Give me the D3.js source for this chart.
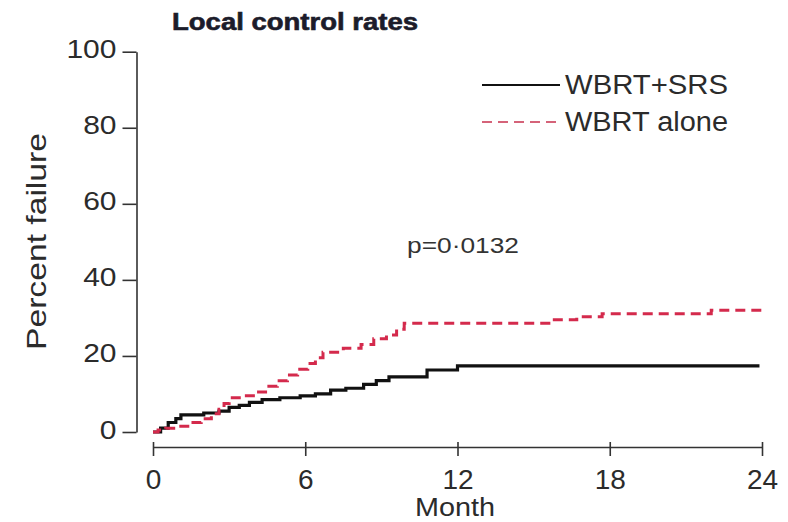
<!DOCTYPE html>
<html>
<head>
<meta charset="utf-8">
<script src="https://cdn.jsdelivr.net/npm/d3@7"></script>
<style>
  html, body { margin: 0; padding: 0; background: #fff; }
  svg { display: block; font-family: "Liberation Sans", Arial, sans-serif; }
  .axis path, .axis line { stroke: #333; stroke-width: 1.6; }
  .axis text { fill: #2b2b2b; }
</style>
</head>
<body>
<svg id="chart"></svg>
<script>
// Kaplan-Meier style step curves (month, percent failure)
const srsMonths = [0, 0.3, 0.6, 0.9, 1.1, 2.0, 2.6, 3.0, 3.4, 3.8, 4.3, 5.0, 5.8, 6.4, 7.0, 7.6, 8.3, 8.8, 9.3, 10.8, 12.0, 23.9];
const srsPct    = [0, 1.0, 2.5, 3.5, 4.5, 5.0, 5.5, 6.5, 7.0, 7.8, 8.5, 9.0, 9.5, 10.0, 11.0, 11.5, 12.5, 13.5, 14.5, 16.3, 17.4, 17.4];

const aloneMonths = [0, 0.2, 0.5, 1.0, 1.5, 1.9, 2.3, 2.6, 2.8, 3.0, 3.6, 4.1, 4.5, 4.9, 5.3, 5.7, 6.1, 6.4, 6.7, 7.5, 8.2, 8.7, 9.2, 9.6, 9.9, 15.6, 16.7, 17.7, 22.0, 24.0];
const alonePct    = [0, 0.5, 1.0, 1.5, 2.5, 3.5, 4.8, 6.0, 7.5, 9.0, 9.5, 10.5, 12.0, 13.5, 15.0, 16.5, 18.0, 19.5, 21.0, 22.0, 23.0, 24.5, 25.5, 27.0, 28.6, 29.5, 30.3, 31.1, 32.0, 32.0];

const xTicks = [0, 6, 12, 18, 24];
const yTicks = [0, 20, 40, 60, 80, 100];

const seriesNames = ['WBRT+SRS', 'WBRT alone'];
const titleText = 'Local control rates';
const pText = 'p=0\u00b70132';

const W = 788, H = 522;
const svg = d3.select('#chart').attr('width', W).attr('height', H);

// scales - x axis sits a bit below the y axis end, like the original
const x = d3.scaleLinear().domain([0, 24]).range([153, 762]);
const y = d3.scaleLinear().domain([0, 100]).range([432, 51.7]);
const xAxisY = 447;

// helper: widen text to match the reference lettering
function stretch(sel, k) {
  sel.each(function() {
    const w = this.getComputedTextLength();
    d3.select(this).attr('textLength', w * k).attr('lengthAdjust', 'spacingAndGlyphs');
  });
}

// y axis
const yAxisG = svg.append('g')
    .attr('class', 'axis')
    .attr('transform', `translate(136.5,0)`)
    .call(d3.axisLeft(y).tickValues(yTicks).tickSize(14).tickSizeOuter(0).tickPadding(6));
yAxisG.selectAll('text')
    .style('font-size', '25px')
    .attr('dy', null)
    .attr('y', 6);
stretch(yAxisG.selectAll('text'), 1.2);

// x axis with ticks crossing the line
const xAxisG = svg.append('g')
    .attr('class', 'axis')
    .attr('transform', `translate(0,${xAxisY})`)
    .call(d3.axisBottom(x).tickValues(xTicks).tickSize(9).tickSizeOuter(0));
xAxisG.selectAll('.tick line').attr('y1', -5);
xAxisG.selectAll('text')
    .style('font-size', '28px')
    .attr('dy', null)
    .attr('y', 42);

// curves
const line = d3.line()
    .x(d => x(d[0]))
    .y(d => y(d[1]))
    .curve(d3.curveStepAfter);

const srsData = srsMonths.map((m, i) => [m, srsPct[i]]);
const aloneData = aloneMonths.map((m, i) => [m, alonePct[i]]);

svg.append('path')
    .datum(srsData)
    .attr('d', line)
    .attr('fill', 'none')
    .attr('stroke', '#111')
    .attr('stroke-width', 3.2);

svg.append('path')
    .datum(aloneData)
    .attr('d', line)
    .attr('fill', 'none')
    .attr('stroke', '#d42a4c')
    .attr('stroke-width', 3)
    .attr('stroke-dasharray', '10,6');

// axis titles
svg.append('text')
    .attr('transform', 'translate(46,241.5) rotate(-90)')
    .attr('text-anchor', 'middle')
    .style('font-size', '28px')
    .attr('fill', '#2b2b2b')
    .attr('textLength', 217)
    .attr('lengthAdjust', 'spacingAndGlyphs')
    .text('Percent failure');

svg.append('text')
    .attr('x', 455)
    .attr('y', 516)
    .attr('text-anchor', 'middle')
    .style('font-size', '25px')
    .attr('fill', '#2b2b2b')
    .attr('textLength', 80)
    .attr('lengthAdjust', 'spacingAndGlyphs')
    .text('Month');

// title
svg.append('text')
    .attr('x', 172)
    .attr('y', 30)
    .style('font-size', '23px')
    .style('font-weight', 'bold')
    .style('stroke', '#1c1c2a')
    .style('stroke-width', 0.6)
    .attr('fill', '#1c1c2a')
    .attr('textLength', 246)
    .attr('lengthAdjust', 'spacingAndGlyphs')
    .text(titleText);

// p value
svg.append('text')
    .attr('x', 407)
    .attr('y', 253)
    .style('font-size', '22px')
    .attr('fill', '#333')
    .attr('textLength', 112)
    .attr('lengthAdjust', 'spacingAndGlyphs')
    .text(pText);

// legend
const legend = svg.append('g');
const legendRows = [
  { name: seriesNames[0], y: 85, color: '#111', dash: null, width: 1.8 },
  { name: seriesNames[1], y: 122, color: '#c8304e', dash: '10,6', width: 1.6 }
];
legendRows.forEach(r => {
  legend.append('line')
      .attr('x1', 482).attr('x2', 560)
      .attr('y1', r.y).attr('y2', r.y)
      .attr('stroke', r.color)
      .attr('stroke-width', r.width)
      .attr('stroke-dasharray', r.dash);
  legend.append('text')
      .attr('x', 565)
      .attr('y', r.y + 9)
      .style('font-size', '27px')
      .attr('fill', '#2b2b2b')
      .attr('textLength', 163)
      .attr('lengthAdjust', 'spacingAndGlyphs')
      .text(r.name);
});
</script>
</body>
</html>
